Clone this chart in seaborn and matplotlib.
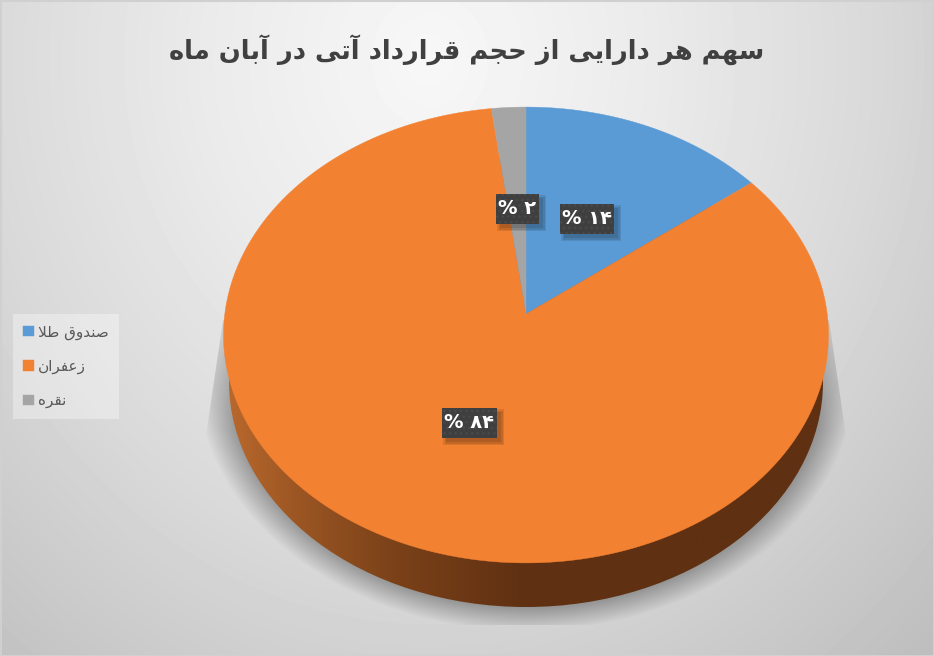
import numpy as np
import matplotlib
matplotlib.use('Agg')
import matplotlib.pyplot as plt
from matplotlib.patches import PathPatch, Ellipse, Rectangle, Polygon
from matplotlib.path import Path
from matplotlib.transforms import Affine2D
import seaborn as sns

title = 'سهم هر دارایی از حجم قرارداد آتی در آبان ماه'
assets = ['صندوق طلا', 'زعفران', 'نقره']
shares = [14.5, 83.5, 2.0]
pct_labels = ['۱۴', '۸۴', '۲']
colors = ['#5B9BD5', '#F38132', '#A5A5A5']

W, H = 934, 656

# isolated, final, initial, medial presentation forms
forms = {
    'ا': (0xFE8D, 0xFE8E), 'آ': (0xFE81, 0xFE82), 'د': (0xFEA9, 0xFEAA),
    'ر': (0xFEAD, 0xFEAE), 'ز': (0xFEAF, 0xFEB0), 'و': (0xFEED, 0xFEEE),
    'ب': (0xFE8F, 0xFE90, 0xFE91, 0xFE92), 'ت': (0xFE95, 0xFE96, 0xFE97, 0xFE98),
    'ج': (0xFE9D, 0xFE9E, 0xFE9F, 0xFEA0), 'ح': (0xFEA1, 0xFEA2, 0xFEA3, 0xFEA4),
    'س': (0xFEB1, 0xFEB2, 0xFEB3, 0xFEB4), 'ص': (0xFEB9, 0xFEBA, 0xFEBB, 0xFEBC),
    'ط': (0xFEC1, 0xFEC2, 0xFEC3, 0xFEC4), 'ع': (0xFEC9, 0xFECA, 0xFECB, 0xFECC),
    'ف': (0xFED1, 0xFED2, 0xFED3, 0xFED4), 'ق': (0xFED5, 0xFED6, 0xFED7, 0xFED8),
    'ل': (0xFEDD, 0xFEDE, 0xFEDF, 0xFEE0), 'م': (0xFEE1, 0xFEE2, 0xFEE3, 0xFEE4),
    'ن': (0xFEE5, 0xFEE6, 0xFEE7, 0xFEE8), 'ه': (0xFEE9, 0xFEEA, 0xFEEB, 0xFEEC),
    'ی': (0xFBFC, 0xFBFD, 0xFBFE, 0xFBFF),
}


# matplotlib has no arabic shaping, so join the letters by hand
def shape(text):
    text = text.replace('لا', '\uFEFB')
    out = []
    for i, c in enumerate(text):
        if c == '\uFEFB':
            prev = text[i - 1] if i else ' '
            out.append('\uFEFC' if prev in forms and len(forms[prev]) == 4 else c)
            continue
        if c not in forms:
            out.append(c)
            continue
        prev = text[i - 1] if i else ' '
        nxt = text[i + 1] if i + 1 < len(text) else ' '
        from_prev = prev in forms and len(forms[prev]) == 4
        to_next = len(forms[c]) == 4 and (nxt in forms or nxt == '\uFEFB')
        if from_prev and to_next:
            idx = 3
        elif from_prev:
            idx = 1
        elif to_next:
            idx = 2
        else:
            idx = 0
        out.append(chr(forms[c][idx]))
    return ''.join(out)[::-1]


# tilted disc: the centre of the pie sits above the middle of the ellipse
A, B, K = 226.0, 301.2, 0.0921
CX, CY = 526, 314


def project(xy):
    den = 1 + K * xy[:, 1]
    return np.c_[CX + B * xy[:, 0] / den, CY - A * xy[:, 1] / den]


sns.set_theme(style='white')
plt.rcParams['font.family'] = ['DejaVu Sans']

fig = plt.figure(figsize=(W / 100, H / 100), dpi=100)
ax = fig.add_axes([0, 0, 1, 1])

wedges, _ = ax.pie(shares, colors=sns.color_palette(colors), startangle=90, counterclock=False)
ax.set_aspect('auto')

# background
xx, yy = np.meshgrid(np.arange(W) + .5, np.arange(H) + .5)
dist = np.hypot((xx - 430) / 560, (yy - 60) / 640)
bg = np.interp(dist, [0, .4, .8, 1.3], [.97, .92, .85, .74])
ax.imshow(bg, cmap='gray', vmin=0, vmax=1, extent=(0, W, H, 0), aspect='auto', zorder=0)

# soft shadow under the disc
r = np.hypot((xx - 526) / 330, (yy - 375) / 256)
t = np.clip((1 - r) / 0.11, 0, 1)
rise = np.clip((yy - 300) / 130, 0, 1)
alpha = 0.36 * t * (0.3 + 0.7 * rise)
shadow = np.zeros((H, W, 4))
shadow[..., 3] = alpha
im = ax.imshow(shadow, extent=(0, W, H, 0), aspect='auto', zorder=1)
clip = Polygon([(223, 320), (202, 463), (202, 625), (850, 625), (850, 463), (829, 320)],
               transform=ax.transData)
im.set_clip_path(clip)

# side wall
stops_x = [229, 300, 390, 526, 823]
stops = np.array([[184, 104, 44], [154, 85, 35], [124, 66, 25], [95, 48, 18], [95, 48, 18]]) / 255
gx = np.linspace(229, 823, 300)
grad = np.stack([np.interp(gx, stops_x, stops[:, i]) for i in range(3)], axis=-1)[None, :, :]
wall = ax.imshow(grad, extent=(229, 823, 607, 157), aspect='auto', zorder=2)
rim = Ellipse((526, 382), 594, 450, transform=ax.transData)
wall.set_clip_path(rim)

# top face, from the pie wedges
handles = []
for w, col in zip(wedges, colors):
    poly = w.get_path().transformed(Affine2D().scale(1000)).to_polygons()[0] / 1000
    w.remove()
    p = PathPatch(Path(project(poly)), facecolor=col, edgecolor=col, lw=0.3, zorder=3)
    ax.add_patch(p)
    handles.append(p)

# data labels, same order as the slices
boxes = [(560, 204, 54, 30), (442, 408, 55, 30), (496, 194, 43, 30)]
for (bx, by, bw, bh), lab in zip(boxes, pct_labels):
    for grow in (3, 1.5, 0):
        ax.add_patch(Rectangle((bx + 4 - grow, by + 4 - grow), bw + 2 * grow, bh + 2 * grow,
                               facecolor='black', alpha=0.1, lw=0, zorder=4))
    ax.add_patch(Rectangle((bx, by), bw, bh, facecolor='#3F3F3F', edgecolor='#4A4A4A', hatch='...',
                           lw=0, zorder=4))
    ax.text(bx + bw / 2, by + bh / 2, '%' + ' ' + lab, color='white', fontsize=14, fontweight='bold',
            ha='center', va='center', zorder=5)

ax.text(467, 50, shape(title), color='#404040', fontsize=18.5, fontweight='bold',
        ha='center', va='center', zorder=5)

leg = ax.legend(handles, [shape(a) for a in assets], loc='upper left',
                bbox_to_anchor=(13 / W, 1 - 314 / H), bbox_transform=ax.transAxes, borderaxespad=0,
                fontsize=11, frameon=True, fancybox=False, facecolor='white', framealpha=0.35,
                edgecolor='none', handlelength=0.68, handleheight=0.68, handletextpad=0.3,
                labelspacing=1.25, borderpad=0.68, labelcolor='#595959')
leg.set_zorder(6)

ax.add_patch(Rectangle((0.5, 0.5), W - 1, H - 1, fill=False, edgecolor='#D0D0D0', lw=1.5, zorder=7))

ax.set_xlim(0, W)
ax.set_ylim(H, 0)
ax.axis('off')
fig.savefig('out.png', dpi=100)
